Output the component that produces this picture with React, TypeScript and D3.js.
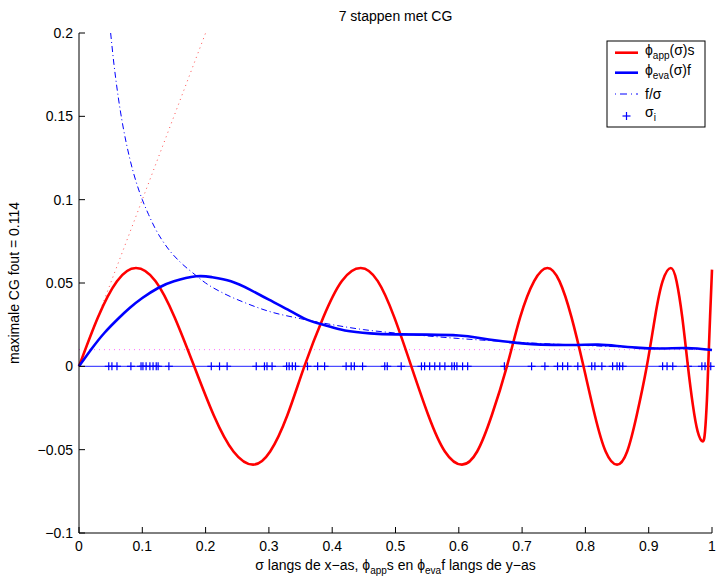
import React from 'react';
import * as d3 from 'd3';

const TITLE = '7 stappen met CG';
const Y_LABEL = 'maximale CG fout = 0.114';

const X_TICKS = [0, 0.1, 0.2, 0.3, 0.4, 0.5, 0.6, 0.7, 0.8, 0.9, 1];
const X_TICK_LABELS = ['0', '0.1', '0.2', '0.3', '0.4', '0.5', '0.6', '0.7', '0.8', '0.9', '1'];
const Y_TICKS = [-0.1, -0.05, 0, 0.05, 0.1, 0.15, 0.2];
const Y_TICK_LABELS = ['\u22120.1', '\u22120.05', '0', '0.05', '0.1', '0.15', '0.2'];

// phi_app(sigma) s  (red)
const appSigma = [
  0, 0.03, 0.06, 0.09, 0.121, 0.151, 0.182, 0.213, 0.244, 0.275, 0.302, 0.329, 0.356,
  0.386, 0.415, 0.445, 0.472, 0.498, 0.525, 0.552, 0.578, 0.605, 0.629, 0.652, 0.676,
  0.697, 0.719, 0.74, 0.759, 0.778, 0.797, 0.815, 0.832, 0.85, 0.866, 0.881, 0.897,
  0.91, 0.922, 0.935, 0.944, 0.953, 0.962, 0.9697, 0.9773, 0.985, 0.989, 0.992, 0.994, 0.997, 1.0,
];
const appValue = [
  0, 0.0295, 0.0511, 0.059, 0.0511, 0.0295, 0, -0.0295, -0.0511, -0.059, -0.0511, -0.0295, 0,
  0.0295, 0.0511, 0.059, 0.0511, 0.0295, 0, -0.0295, -0.0511, -0.059, -0.0511, -0.0295, 0,
  0.0295, 0.0511, 0.059, 0.0511, 0.0295, 0, -0.0295, -0.0511, -0.059, -0.0511, -0.0295, 0,
  0.0295, 0.0511, 0.059, 0.0511, 0.0295, 0, -0.023, -0.039, -0.045, -0.039, -0.02, 0, 0.03, 0.058,
];

// phi_eva(sigma) f  (blue)
const evaSigma = [0, 0.02, 0.04, 0.063, 0.08, 0.1, 0.125, 0.15, 0.185, 0.21, 0.24, 0.27, 0.3, 0.33, 0.36, 0.39, 0.42, 0.46, 0.5, 0.55, 0.6, 0.63, 0.66, 0.7, 0.73, 0.78, 0.82, 0.85, 0.88, 0.92, 0.96, 1.0];
const evaValue = [0, 0.0105, 0.02, 0.029, 0.035, 0.041, 0.047, 0.051, 0.054, 0.0535, 0.051, 0.046, 0.04, 0.034, 0.028, 0.0245, 0.0215, 0.0198, 0.0192, 0.019, 0.0185, 0.0172, 0.0155, 0.0138, 0.013, 0.0128, 0.013, 0.0122, 0.0112, 0.0107, 0.011, 0.0098];

// f / sigma  (blue dash-dot)
const fsSigma = [0.05, 0.055, 0.06, 0.065, 0.07, 0.08, 0.09, 0.1, 0.11, 0.12, 0.14, 0.16, 0.18, 0.2, 0.23, 0.26, 0.3, 0.35, 0.4, 0.45, 0.5, 0.6, 0.7, 0.8, 0.9, 1.0];
const fsValue = [0.2, 0.182, 0.167, 0.154, 0.143, 0.125, 0.111, 0.1, 0.091, 0.083, 0.071, 0.0625, 0.056, 0.05, 0.0435, 0.0385, 0.033, 0.0286, 0.025, 0.022, 0.02, 0.0167, 0.0143, 0.0125, 0.0111, 0.01];

// red dotted (sigma) and magenta dotted (f)
const sigLineX = [0, 0.2];
const sigLineY = [0, 0.2];
const fLineX = [0, 1];
const fLineY = [0.01, 0.01];

// sigma_i markers
const sigmaI = [0.047, 0.052, 0.06, 0.082, 0.098, 0.101, 0.106, 0.112, 0.117, 0.122, 0.125, 0.142, 0.209, 0.222, 0.234, 0.28, 0.293, 0.297, 0.305, 0.328, 0.332, 0.337, 0.342, 0.361, 0.377, 0.388, 0.422, 0.43, 0.435, 0.448, 0.483, 0.487, 0.509, 0.541, 0.546, 0.554, 0.562, 0.57, 0.578, 0.589, 0.593, 0.597, 0.606, 0.614, 0.672, 0.715, 0.736, 0.756, 0.764, 0.772, 0.788, 0.81, 0.815, 0.826, 0.843, 0.85, 0.854, 0.859, 0.922, 0.929, 0.938, 0.962, 0.984, 0.989, 0.998];

const FONT = 'Liberation Sans, Arial, Helvetica, sans-serif';
const PHI = '\u03D5';

export default function App() {
  const W = 718;
  const H = 581;
  const L = 79, R = 712, T = 33, B = 533;
  const x = d3.scaleLinear().domain([0, 1]).range([L, R]);
  const y = d3.scaleLinear().domain([-0.1, 0.2]).range([B, T]);

  const mk = (xs: number[], ys: number[], curve: d3.CurveFactory) =>
    d3.line<number>().x((_, i) => x(xs[i])).y((d) => y(d)).curve(curve)(ys) || '';

  const redPath = mk(appSigma, appValue, d3.curveNatural);
  const bluePath = mk(evaSigma, evaValue, d3.curveNatural);
  const fsPath = mk(fsSigma, fsValue, d3.curveMonotoneX);
  const sigPath = mk(sigLineX, sigLineY, d3.curveLinear);
  const fPath = mk(fLineX, fLineY, d3.curveLinear);
  const zeroPath = mk([0, 1], [0, 0], d3.curveLinear);

  const tick = 6;
  const lx = 607, ly = 41, lw = 98, lh = 86;
  const rows = [52.7, 72.7, 94, 116];
  const ms = 4;

  return (
    <svg width={W} height={H} style={{ position: 'absolute', left: 0, top: 0, display: 'block', background: '#fff' }} fontFamily={FONT}>
      <rect x={0} y={0} width={W} height={H} fill="#fff" />
      {/* data */}
      <path d={fPath} fill="none" stroke="#ff00ff" strokeWidth={1} strokeDasharray="1,4" opacity={0.6} />
      <path d={sigPath} fill="none" stroke="#ff0000" strokeWidth={1} strokeDasharray="1,4" opacity={0.7} />
      <path d={fsPath} fill="none" stroke="#0000ff" strokeWidth={1} strokeDasharray="6,3,1,3" />
      <path d={zeroPath} fill="none" stroke="#4d4dff" strokeWidth={1.3} />
      {sigmaI.map((s, i) => (
        <g key={i} stroke="#0000ff" strokeWidth={1.2}>
          <line x1={x(s) - ms} x2={x(s) + ms} y1={y(0)} y2={y(0)} />
          <line x1={x(s)} x2={x(s)} y1={y(0) - ms} y2={y(0) + ms} />
        </g>
      ))}
      <path d={redPath} fill="none" stroke="#ff0000" strokeWidth={2.6} strokeLinejoin="round" />
      <path d={bluePath} fill="none" stroke="#0000ff" strokeWidth={2.6} strokeLinejoin="round" />

      {/* axes */}
      <line x1={L} x2={L} y1={T} y2={B} stroke="#000" strokeWidth={1} />
      <line x1={L} x2={R} y1={B} y2={B} stroke="#000" strokeWidth={1} />
      {X_TICKS.map((t, i) => (
        <g key={'x' + i}>
          <line x1={x(t)} x2={x(t)} y1={B} y2={B - tick} stroke="#000" strokeWidth={1} />
          <text x={x(t)} y={B + 18} fontSize={14} textAnchor="middle" fill="#000">{X_TICK_LABELS[i]}</text>
        </g>
      ))}
      {Y_TICKS.map((t, i) => (
        <g key={'y' + i}>
          <line x1={L} x2={L + tick} y1={y(t)} y2={y(t)} stroke="#000" strokeWidth={1} />
          <text x={L - 6} y={y(t) + 5} fontSize={14} textAnchor="end" fill="#000">{Y_TICK_LABELS[i]}</text>
        </g>
      ))}

      {/* title & labels */}
      <text x={(L + R) / 2} y={21} fontSize={14} textAnchor="middle" fill="#000">{TITLE}</text>
      <text x={(L + R) / 2} y={570} fontSize={14} textAnchor="middle" fill="#000">
        <tspan>σ langs de x−as, {PHI}</tspan>
        <tspan fontSize={10} dy={4}>app</tspan>
        <tspan dy={-4}>s en {PHI}</tspan>
        <tspan fontSize={10} dy={4}>eva</tspan>
        <tspan dy={-4}>f langs de y−as</tspan>
      </text>
      <text transform={`translate(19,${(T + B) / 2}) rotate(-90)`} fontSize={14} textAnchor="middle" fill="#000">{Y_LABEL}</text>

      {/* legend */}
      <rect x={lx} y={ly} width={lw} height={lh} fill="#fff" stroke="#000" strokeWidth={1} />
      <line x1={615} x2={638} y1={rows[0]} y2={rows[0]} stroke="#ff0000" strokeWidth={2.6} />
      <line x1={615} x2={638} y1={rows[1]} y2={rows[1]} stroke="#0000ff" strokeWidth={2.6} />
      <line x1={615} x2={638} y1={rows[2]} y2={rows[2]} stroke="#0000ff" strokeWidth={1} strokeDasharray="1,4,7,4" />
      <g stroke="#0000ff" strokeWidth={1.2}>
        <line x1={622.5} x2={630.5} y1={rows[3]} y2={rows[3]} />
        <line x1={626.5} x2={626.5} y1={rows[3] - 4} y2={rows[3] + 4} />
      </g>
      <text x={645} y={rows[0] + 2} fontSize={14} fill="#000">
        <tspan>{PHI}</tspan>
        <tspan fontSize={10} dy={4}>app</tspan>
        <tspan dy={-4}>(σ)s</tspan>
      </text>
      <text x={645} y={rows[1] + 2} fontSize={14} fill="#000">
        <tspan>{PHI}</tspan>
        <tspan fontSize={10} dy={4}>eva</tspan>
        <tspan dy={-4}>(σ)f</tspan>
      </text>
      <text x={645} y={rows[2] + 5} fontSize={14} fill="#000">f/σ</text>
      <text x={645} y={rows[3] + 1} fontSize={14} fill="#000">
        <tspan>σ</tspan>
        <tspan fontSize={10} dy={4}>i</tspan>
      </text>
    </svg>
  );
}
